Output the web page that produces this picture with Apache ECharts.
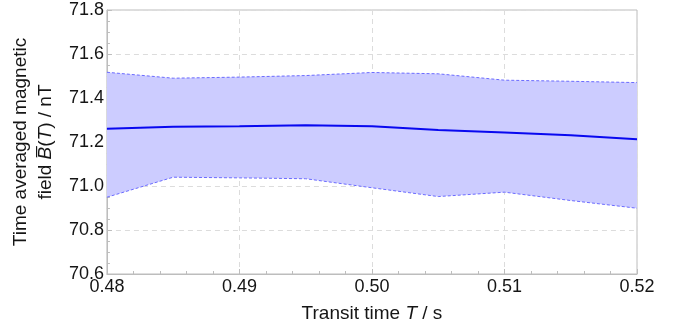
<!DOCTYPE html>
<html>
<head>
<meta charset="utf-8">
<script src="https://cdn.jsdelivr.net/npm/echarts@6/dist/echarts.min.js"></script>
<style>
  html, body { margin: 0; padding: 0; background: #fff; }
  #chart { width: 689px; height: 334px; }
</style>
</head>
<body>
<div id="chart"></div>
<script>
// Transit time T (s)
var transitTime = [0.480, 0.485, 0.490, 0.495, 0.500, 0.505, 0.510, 0.515, 0.520];
// Time-averaged field B(T) (nT): mean and band limits
var meanField  = [71.260, 71.269, 71.272, 71.276, 71.272, 71.254, 71.243, 71.231, 71.213];
var upperField = [71.517, 71.490, 71.495, 71.502, 71.516, 71.510, 71.481, 71.476, 71.470];
var lowerField = [70.949, 71.040, 71.037, 71.033, 70.992, 70.952, 70.972, 70.934, 70.899];
var yTicks = [70.6, 70.8, 71.0, 71.2, 71.4, 71.6, 71.8];
var xTicks = [0.48, 0.49, 0.50, 0.51, 0.52];

function pairs(xs, ys) {
  return xs.map(function (x, i) { return [x, ys[i]]; });
}
// rows: [T, lower, upper] for the shaded band
var bandRows = transitTime.map(function (t, i) { return [t, lowerField[i], upperField[i]]; });

var FONT = 'Liberation Sans, Arial, sans-serif';
var axisGrey = '#bdbdbd';
var textColor = '#151515';

// Shaded band drawn as one polygon: upper edge forward, lower edge back
function renderBand(params, api) {
  if (params.dataIndex !== 0) return null;
  var pts = [];
  var n = bandRows.length;
  for (var i = 0; i < n; i++) pts.push(api.coord([bandRows[i][0], bandRows[i][2]]));
  for (var j = n - 1; j >= 0; j--) pts.push(api.coord([bandRows[j][0], bandRows[j][1]]));
  return {
    type: 'polygon',
    shape: { points: pts },
    style: { fill: '#ccccff', stroke: null }
  };
}

var chart = echarts.init(document.getElementById('chart'));
chart.setOption({
  animation: false,
  grid: {
    left: 106, right: 52, top: 10, bottom: 60,
    show: true, borderColor: axisGrey, borderWidth: 1
  },
  xAxis: {
    type: 'value',
    min: xTicks[0], max: xTicks[xTicks.length - 1], interval: 0.01,
    name: 'Transit time {i|T} / s',
    nameLocation: 'middle', nameGap: 30,
    nameTextStyle: {
      fontFamily: FONT, fontSize: 19, color: textColor,
      rich: { i: { fontFamily: FONT, fontSize: 19, fontStyle: 'italic', color: textColor } }
    },
    axisLine: { lineStyle: { color: axisGrey } },
    axisTick: { inside: true, length: 5, lineStyle: { color: axisGrey } },
    minorTick: { show: true, splitNumber: 5, length: 3, lineStyle: { color: axisGrey } },
    axisLabel: {
      fontFamily: FONT, fontSize: 18, color: textColor, margin: 4,
      formatter: function (v) { return v.toFixed(2); }
    },
    splitLine: { show: true, lineStyle: { color: '#dcdcdc', type: [5, 4] } }
  },
  yAxis: {
    type: 'value',
    min: yTicks[0], max: yTicks[yTicks.length - 1], interval: 0.2,
    name: '{n|Time averaged magnetic}\n{n|field }{i|B\u0305}{n|(}{i|T}{n|) / nT}',
    nameLocation: 'middle', nameRotate: 90, nameGap: 39,
    nameTextStyle: {
      fontFamily: FONT, fontSize: 19, color: textColor, lineHeight: 25,
      rich: {
        n: { fontFamily: FONT, fontSize: 19, color: textColor, lineHeight: 25 },
        i: { fontFamily: FONT, fontSize: 19, fontStyle: 'italic', color: textColor, lineHeight: 25 }
      }
    },
    axisLine: { show: true, lineStyle: { color: axisGrey } },
    axisTick: { show: true, inside: true, length: 5, lineStyle: { color: axisGrey } },
    minorTick: { show: true, splitNumber: 4, length: 3, lineStyle: { color: axisGrey } },
    axisLabel: {
      fontFamily: FONT, fontSize: 18, color: textColor, margin: 3,
      formatter: function (v) { return v.toFixed(1); }
    },
    splitLine: { show: true, lineStyle: { color: '#dcdcdc', type: [5, 4] } }
  },
  series: [
    {
      name: 'band',
      type: 'custom',
      data: bandRows,
      renderItem: renderBand,
      encode: { x: 0, y: [1, 2] },
      clip: true,
      z: 1
    },
    {
      name: 'lower',
      type: 'line',
      data: pairs(transitTime, lowerField),
      symbol: 'none',
      lineStyle: { color: '#6b6bff', width: 1, type: [3, 2] },
      z: 3
    },
    {
      name: 'upper',
      type: 'line',
      data: pairs(transitTime, upperField),
      symbol: 'none',
      lineStyle: { color: '#6b6bff', width: 1, type: [3, 2] },
      z: 3
    },
    {
      name: 'mean',
      type: 'line',
      data: pairs(transitTime, meanField),
      symbol: 'none',
      lineStyle: { color: '#0808f0', width: 2 },
      z: 4
    }
  ]
});
</script>
</body>
</html>
